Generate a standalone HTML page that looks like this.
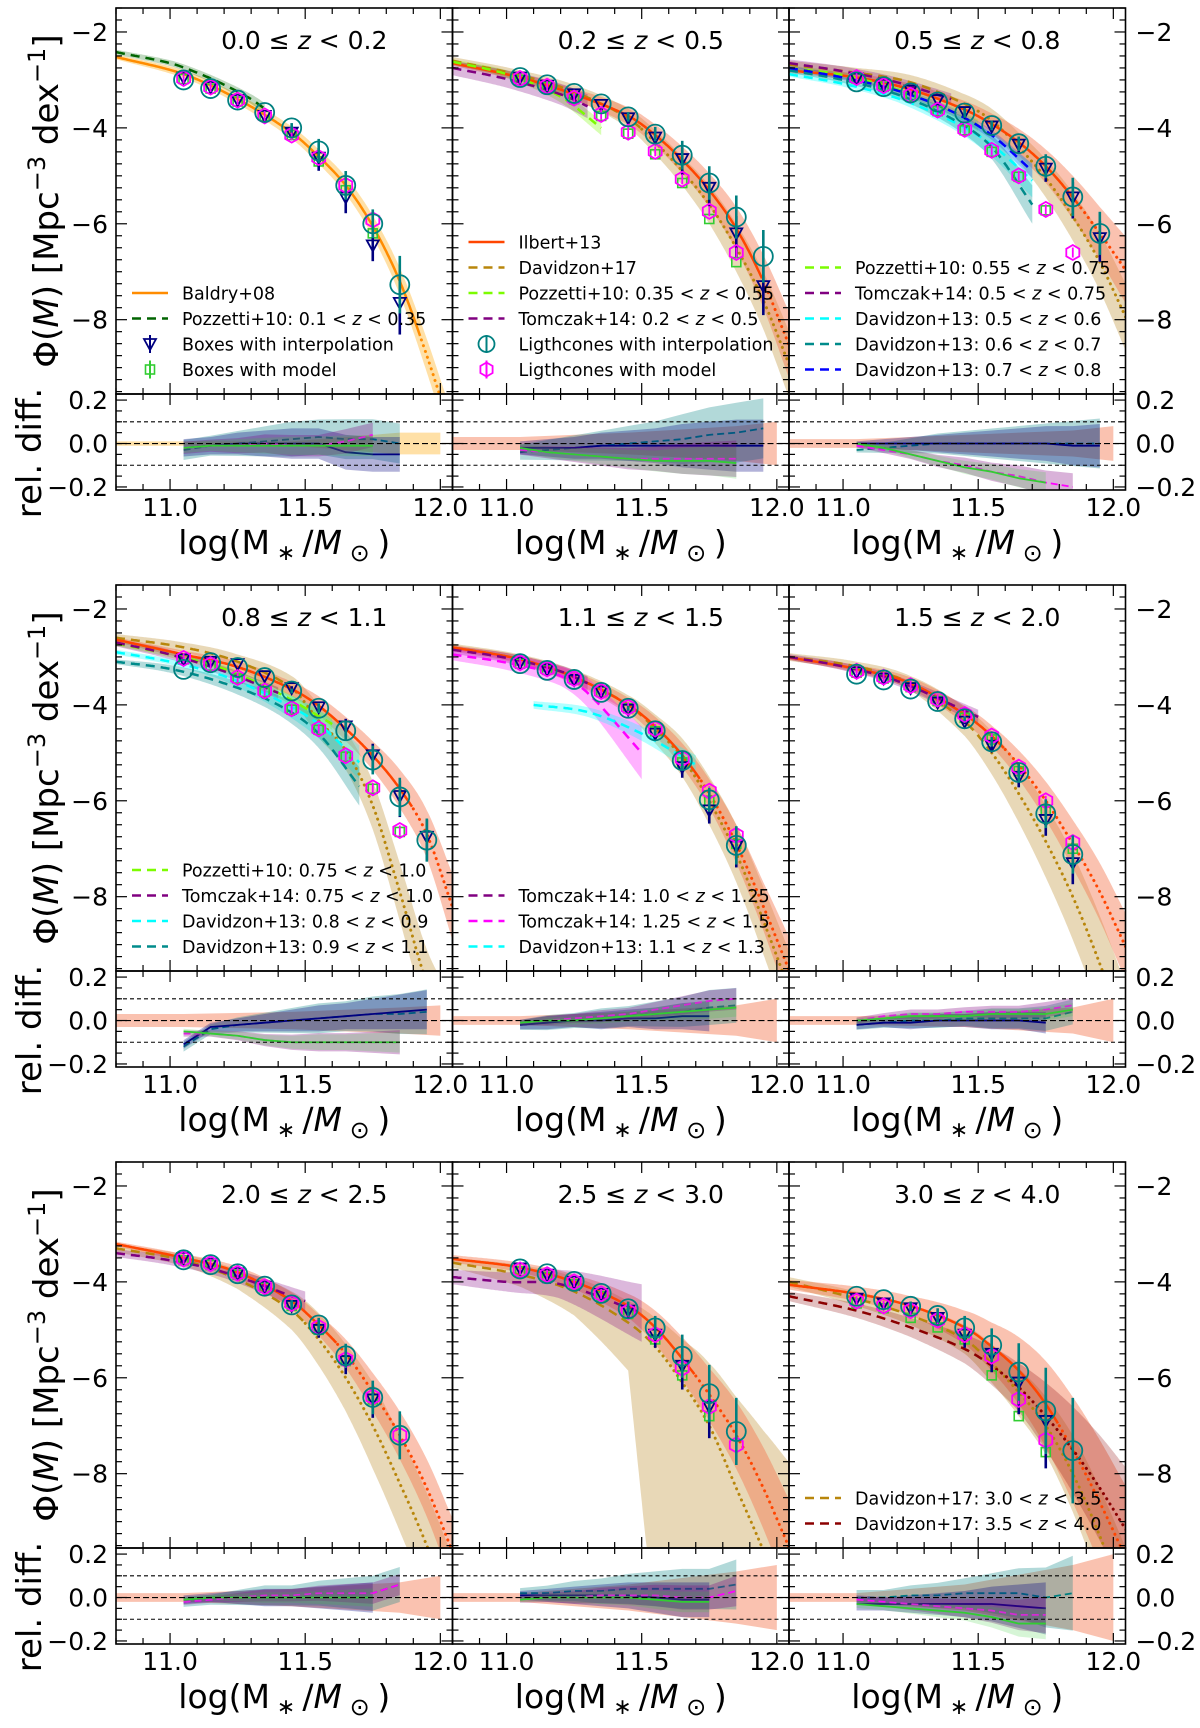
<!DOCTYPE html>
<html><head><meta charset="utf-8"><style>
html,body{margin:0;padding:0;background:#fff;width:1200px;height:1728px;overflow:hidden;}
svg{display:block;font-family:"DejaVu Sans","Liberation Sans",sans-serif;overflow:hidden;}
</style></head><body>
<svg id="chart" xmlns="http://www.w3.org/2000/svg" width="1200" height="1728" viewBox="0 0 1200 1728">
<defs id="defs"></defs>
</svg>
<script>
// ---------- data ----------
const panelTitles = [['0.0','0.2'],['0.2','0.5'],['0.5','0.8'],['0.8','1.1'],['1.1','1.5'],['1.5','2.0'],['2.0','2.5'],['2.5','3.0'],['3.0','4.0']];
const curveX = [10.8, 11.05, 11.25, 11.45, 11.55, 11.65, 11.75, 11.85, 11.95, 12.05];
const ilbertY = [
 [-2.52,-2.88,-3.4,-4.1,-4.6,-5.2,-6.05,-7.2,-8.75,-10.5],
 [-2.65,-2.95,-3.3,-3.75,-4.15,-4.67,-5.3,-6.1,-7.2,-8.6],
 [-2.8,-2.95,-3.2,-3.62,-3.92,-4.3,-4.8,-5.45,-6.2,-7.0],
 [-2.64,-2.95,-3.21,-3.67,-4.02,-4.5,-5.06,-5.75,-6.7,-8.3],
 [-2.8,-3.05,-3.42,-4.0,-4.45,-5.05,-5.85,-6.9,-8.2,-9.6],
 [-3.01,-3.25,-3.55,-4.2,-4.65,-5.25,-6.0,-6.9,-7.9,-9.1],
 [-3.21,-3.5,-3.8,-4.4,-4.9,-5.5,-6.3,-7.2,-8.3,-9.7],
 [-3.52,-3.7,-4.0,-4.5,-4.95,-5.6,-6.35,-7.2,-8.3,-9.6],
 [-4.06,-4.25,-4.5,-4.95,-5.35,-5.85,-6.55,-7.5,-8.6,-9.8]];
const ilbertErr = [
 [0.05,0.08,0.1,0.13,0.15,0.18,0.22,0.28,0.35,0.4],
 [0.05,0.08,0.12,0.18,0.22,0.28,0.35,0.45,0.55,0.7],
 [0.05,0.08,0.12,0.18,0.22,0.28,0.35,0.45,0.55,0.7],
 [0.05,0.08,0.12,0.15,0.2,0.25,0.3,0.4,0.5,0.7],
 [0.05,0.08,0.12,0.15,0.2,0.25,0.3,0.4,0.5,0.7],
 [0.05,0.08,0.12,0.18,0.22,0.3,0.4,0.5,0.6,0.7],
 [0.05,0.08,0.12,0.18,0.22,0.3,0.4,0.5,0.6,0.7],
 [0.08,0.1,0.15,0.25,0.35,0.45,0.55,0.7,0.85,1.0],
 [0.1,0.15,0.2,0.35,0.5,0.7,0.9,1.1,1.3,1.5]];
const ilbertDotFrom = [11.93, 11.95, 11.88, 11.9, 11.72, 11.6, 11.62, 11.7, 11.8];
const davidzonY = [null,
 [-2.6,-2.9,-3.25,-3.8,-4.3,-4.9,-5.6,-6.5,-7.6,-9.0],
 [-2.68,-2.85,-3.05,-3.5,-3.85,-4.4,-5.05,-5.85,-6.8,-8.0],
 [-2.6,-2.8,-3.1,-3.65,-4.33,-4.95,-6.1,-7.9,-9.8,-11],
 [-2.8,-3.05,-3.42,-4.0,-4.5,-5.1,-6.0,-7.1,-8.5,-10],
 [-3.0,-3.2,-3.55,-4.35,-5.0,-5.85,-6.85,-8.0,-9.4,-11],
 [-3.3,-3.55,-3.95,-4.6,-5.2,-6.0,-7.0,-8.2,-9.5,-11],
 [-3.6,-3.85,-4.2,-4.85,-5.35,-6.1,-7.0,-8.3,-9.6,-11],
 [-4.0,-4.35,-4.7,-5.2,-5.7,-6.3,-7.0,-8.0,-9.3,-10.8]];
const davidzonErrUp = [null,
 [0.08,0.1,0.15,0.2,0.25,0.3,0.4,0.5,0.6,0.7],
 [0.08,0.1,0.15,0.2,0.25,0.3,0.4,0.5,0.6,0.7],
 [0.08,0.1,0.15,0.25,0.35,0.4,0.5,0.6,0.7,0.8],
 [0.08,0.1,0.15,0.2,0.3,0.4,0.5,0.6,0.7,0.8],
 [0.08,0.1,0.15,0.3,0.45,0.6,0.75,0.9,1.0,1.1],
 [0.08,0.12,0.2,0.4,0.55,0.7,0.9,1.0,1.1,1.2],
 [0.1,0.2,0.3,0.45,0.6,0.9,1.3,1.9,2.5,3.2],
 [0.1,0.15,0.2,0.3,0.4,0.5,0.6,0.8,1.0,1.2]];
const davidzonErrDown = [null,
 [0.08,0.1,0.15,0.2,0.25,0.3,0.4,0.5,0.6,0.7],
 [0.08,0.1,0.15,0.2,0.25,0.3,0.4,0.5,0.6,0.7],
 [0.08,0.1,0.15,0.25,0.35,0.4,0.5,0.6,0.7,0.8],
 [0.08,0.1,0.15,0.2,0.3,0.4,0.5,0.6,0.7,0.8],
 [0.08,0.1,0.15,0.3,0.45,0.6,0.75,0.9,1.0,1.1],
 [0.08,0.12,0.2,0.4,0.55,0.7,0.9,1.0,1.1,1.2],
 [0.1,0.25,0.5,1.0,6,6,6,6,6,6],
 [0.1,0.15,0.2,0.3,0.4,0.5,0.6,0.8,1.0,1.2]];
const davidzonDotFrom = [0, 11.5, 11.5, 11.45, 11.6, 11.55, 11.5, 11.55, 11.55];

// literature dashed lines
const litPanel = [0, 1,1, 2,2,2,2,2, 3,3,3,3, 4,4,4, 5, 6, 7, 8];
const litColor = ['#006400','#7cfc00','#800080','#7cfc00','#800080','#00ffff','#008b8b','#0000ff','#7cfc00','#800080','#00ffff','#008b8b','#800080','#ff00ff','#00ffff','#800080','#800080','#800080','#8b0000'];
const litX = [
 [10.8,11.0,11.1,11.2,11.3,11.35],
 [10.8,11.0,11.2,11.35],[10.8,11.0,11.2,11.3],
 [10.8,11.0,11.2,11.4,11.5],[10.8,11.0,11.2,11.4],[10.8,11.0,11.2,11.4,11.55,11.7],[10.8,11.0,11.2,11.4,11.55,11.7],[10.8,11.0,11.2,11.4,11.55,11.7],
 [10.8,11.0,11.2,11.4,11.6],[10.8,11.0,11.2,11.4],[10.8,11.0,11.2,11.4,11.55,11.7],[10.8,11.0,11.2,11.4,11.55,11.7],
 [10.8,11.0,11.2,11.3],[10.8,11.0,11.2,11.3,11.5],[11.1,11.3,11.5,11.7],
 [10.8,11.0,11.2,11.5],[10.8,11.0,11.2,11.5],[10.8,11.0,11.2,11.5],
 [10.8,11.05,11.25,11.45,11.55,11.65,11.75,11.85,11.95,12.05]];
const litY = [
 [-2.42,-2.65,-2.85,-3.1,-3.4,-3.6],
 [-2.62,-2.88,-3.35,-4.0],[-2.75,-2.98,-3.3,-3.55],
 [-2.75,-2.9,-3.2,-3.65,-3.95],[-2.65,-2.82,-3.05,-3.4],[-2.88,-3.08,-3.38,-3.85,-4.35,-5.1],[-2.8,-3.0,-3.3,-3.8,-4.4,-5.6],[-2.75,-2.95,-3.22,-3.65,-4.15,-4.9],
 [-2.72,-2.95,-3.25,-3.75,-4.4],[-2.7,-2.95,-3.3,-3.75],[-2.9,-3.1,-3.4,-3.9,-4.4,-5.2],[-3.1,-3.25,-3.55,-4.0,-4.6,-5.7],
 [-2.85,-3.02,-3.3,-3.55],[-2.95,-3.12,-3.4,-3.75,-5.0],[-4.0,-4.15,-4.6,-5.25],
 [-3.0,-3.2,-3.5,-4.25],[-3.4,-3.55,-3.8,-4.4],[-3.9,-4.0,-4.05,-4.65],
 [-4.3,-4.6,-4.95,-5.4,-5.75,-6.2,-6.8,-7.5,-8.3,-9.2]];
const litErr = [
 [0.05,0.06,0.07,0.08,0.1,0.12],
 [0.05,0.08,0.12,0.15],[0.15,0.18,0.22,0.25],
 [0.05,0.06,0.08,0.1,0.12],[0.08,0.1,0.1,0.12],[0.05,0.06,0.08,0.15,0.25,0.35],[0.05,0.06,0.08,0.15,0.25,0.4],[0.05,0.05,0.06,0.08,0.1,0.15],
 [0.05,0.06,0.08,0.1,0.12],[0.08,0.1,0.1,0.12],[0.05,0.06,0.1,0.2,0.3,0.35],[0.05,0.08,0.12,0.2,0.3,0.4],
 [0.08,0.1,0.12,0.15],[0.12,0.15,0.2,0.3,0.55],[0.08,0.1,0.15,0.2],
 [0.06,0.08,0.1,0.15],[0.08,0.1,0.12,0.2],[0.15,0.2,0.3,0.6],
 [0.1,0.15,0.2,0.3,0.4,0.5,0.7,0.9,1.1,1.3]];
const litDotFrom = [99,99,99,99,99,99,99,99,99,99,99,99,99,99,99,99,99,99,11.55];

// mock-catalogue points
const ptsX = [11.05,11.15,11.25,11.35,11.45,11.55,11.65,11.75,11.85,11.95];
const tealY = [
 [-3.0,-3.18,-3.42,-3.68,-4.0,-4.48,-5.2,-6.0,-7.27,null],
 [-2.95,-3.1,-3.28,-3.5,-3.77,-4.13,-4.57,-5.15,-5.86,-6.68],
 [-3.04,-3.14,-3.27,-3.46,-3.69,-3.95,-4.33,-4.8,-5.44,-6.2],
 [-3.26,-3.12,-3.22,-3.43,-3.71,-4.07,-4.54,-5.15,-5.92,-6.82],
 [-3.14,-3.28,-3.47,-3.74,-4.07,-4.54,-5.16,-5.98,-6.93,null],
 [-3.36,-3.48,-3.67,-3.93,-4.29,-4.77,-5.41,-6.27,-7.12,null],
 [-3.54,-3.64,-3.83,-4.09,-4.48,-4.9,-5.54,-6.41,-7.2,null],
 [-3.73,-3.83,-3.99,-4.24,-4.56,-4.96,-5.55,-6.33,-7.12,null],
 [-4.3,-4.37,-4.51,-4.7,-4.96,-5.32,-5.88,-6.69,-7.52,null]];
const navyY = [
 [-2.95,-3.15,-3.42,-3.75,-4.1,-4.62,-5.45,-6.45,-7.65,null],
 [-2.95,-3.12,-3.3,-3.52,-3.8,-4.2,-4.65,-5.25,-6.2,-7.3],
 [-2.97,-3.1,-3.22,-3.42,-3.67,-3.97,-4.35,-4.85,-5.45,-6.3],
 [-3.05,-3.1,-3.15,-3.4,-3.65,-4.05,-4.45,-5.05,-5.9,-6.75],
 [-3.12,-3.26,-3.48,-3.72,-4.1,-4.6,-5.3,-6.2,-6.95,null],
 [-3.32,-3.45,-3.65,-3.95,-4.35,-4.85,-5.5,-6.4,-7.3,null],
 [-3.5,-3.62,-3.82,-4.1,-4.5,-5.0,-5.65,-6.45,null,null],
 [-3.72,-3.85,-4.0,-4.25,-4.6,-5.1,-5.75,-6.6,null,null],
 [-4.35,-4.45,-4.55,-4.75,-5.1,-5.5,-6.1,-6.9,null,null]];
const magentaY = [
 [-2.97,-3.15,-3.42,-3.75,-4.15,-4.62,-5.2,-5.92,null,null],
 [-2.97,-3.13,-3.38,-3.72,-4.09,-4.49,-5.07,-5.74,-6.6,null],
 [-2.95,-3.12,-3.32,-3.63,-4.03,-4.47,-5.0,-5.7,-6.6,null],
 [-3.03,-3.16,-3.43,-3.71,-4.08,-4.5,-5.06,-5.73,-6.62,null],
 [-3.12,-3.25,-3.45,-3.72,-4.05,-4.5,-5.12,-5.8,-6.72,null],
 [-3.3,-3.42,-3.6,-3.88,-4.2,-4.65,-5.3,-6.0,-6.87,null],
 [-3.52,-3.62,-3.82,-4.1,-4.45,-4.95,-5.62,-6.4,-7.2,null],
 [-3.75,-3.85,-4.0,-4.25,-4.62,-5.1,-5.8,-6.6,-7.4,null],
 [-4.4,-4.5,-4.6,-4.8,-5.1,-5.55,-6.45,-7.3,null,null]];
const greenY = [
 [-2.98,-3.18,-3.45,-3.75,-4.15,-4.7,-5.3,-6.2,null,null],
 [-3.0,-3.15,-3.4,-3.75,-4.12,-4.55,-5.15,-5.9,-6.8,null],
 [-2.97,-3.14,-3.35,-3.65,-4.05,-4.5,-5.02,-5.72,null,null],
 [-3.05,-3.18,-3.45,-3.73,-4.1,-4.52,-5.08,-5.75,-6.65,null],
 [-3.14,-3.27,-3.47,-3.73,-4.07,-4.55,-5.2,-6.0,-6.9,null],
 [-3.33,-3.45,-3.63,-3.92,-4.27,-4.72,-5.38,-6.2,-7.0,null],
 [-3.55,-3.65,-3.85,-4.12,-4.5,-5.0,-5.65,-6.45,null,null],
 [-3.78,-3.9,-4.05,-4.3,-4.67,-5.2,-5.95,-6.8,null,null],
 [-4.45,-4.55,-4.75,-4.95,-5.2,-5.95,-6.8,-7.55,null,null]];
const pointErr = [
 [0,0,0,0,0.1,0.25,0.3,0.3,0.6,0],
 [0,0,0,0,0.1,0.15,0.3,0.35,0.45,0.55],
 [0,0,0,0,0.1,0.1,0.15,0.25,0.4,0.45],
 [0,0,0,0,0.05,0.1,0.2,0.3,0.4,0.45],
 [0,0,0,0,0.05,0.1,0.2,0.25,0.4,0],
 [0,0,0,0,0.05,0.1,0.2,0.3,0.4,0],
 [0,0,0,0,0.1,0.15,0.25,0.35,0.5,0],
 [0,0,0,0,0.15,0.25,0.45,0.6,0.7,0],
 [0,0,0.1,0.15,0.25,0.35,0.6,0.9,1.1,0]];

// relative differences
const orangeX = [10.8, 11.05, 11.45, 11.85, 12.0];
const relOrange = [
 [0.01,0.01,0.01,0.05,0.05],[0.03,0.03,0.05,0.08,0.1],[0.02,0.02,0.04,0.06,0.08],
 [0.03,0.03,0.04,0.06,0.07],[0.02,0.02,0.04,0.07,0.1],[0.02,0.02,0.03,0.06,0.1],
 [0.02,0.02,0.04,0.07,0.1],[0.02,0.02,0.06,0.12,0.15],[0.02,0.02,0.06,0.15,0.2]];
const relTeal = [
 [-0.03,-0.01,0,0.01,0.02,0.03,0.02,0.02,0,null],
 [-0.04,-0.03,-0.02,-0.01,0,0.01,0.02,0.04,0.05,0.07],
 [-0.03,-0.02,-0.01,0,0,0,0,0,0,0],
 [-0.12,-0.04,-0.02,-0.01,0,0.01,0.02,0.03,0.03,0.04],
 [-0.02,-0.01,0,0.01,0.02,0.03,0.04,0.06,0.07,null],
 [-0.02,-0.01,0,0,0.01,0.01,0.01,0.01,0.04,null],
 [-0.02,-0.01,0,0.01,0.01,0.02,0.02,0.02,0.06,null],
 [0.02,0.02,0.03,0.03,0.04,0.04,0.04,0.04,0.06,null],
 [0,0,0.01,0.01,0.02,0.02,0.02,0,0.02,null]];
const relNavy = [
 [-0.02,-0.01,0,0,0,0,-0.04,-0.05,-0.05,null],
 [-0.02,-0.02,-0.02,-0.01,-0.01,-0.01,-0.01,-0.01,-0.01,-0.01],
 [0,0,0,0,0,0,0,0,-0.01,-0.01],
 [-0.11,-0.03,-0.02,-0.01,0,0.01,0.02,0.03,0.04,0.05],
 [-0.02,-0.01,0,0,0.01,0.01,0.02,0.02,null,null],
 [-0.02,-0.01,-0.01,0,0,0,0,-0.01,null,null],
 [-0.01,0,0,0,0,0,0,0,null,null],
 [0.01,0.01,0.01,0.01,0.01,0,-0.01,-0.01,null,null],
 [-0.03,-0.03,-0.03,-0.03,-0.03,-0.03,-0.04,-0.05,null,null]];
const relMagenta = [
 [-0.02,-0.01,-0.01,0,-0.01,-0.01,0.01,0.04,null,null],
 [-0.03,-0.04,-0.05,-0.06,-0.07,-0.07,-0.07,-0.07,-0.07,null],
 [-0.01,-0.03,-0.05,-0.08,-0.1,-0.13,-0.15,-0.18,-0.2,null],
 [-0.06,-0.06,-0.07,-0.09,-0.1,-0.1,-0.1,-0.1,-0.1,null],
 [-0.01,0,0.01,0.02,0.03,0.05,0.07,0.09,0.1,null],
 [0,0.02,0.03,0.03,0.04,0.04,0.04,0.05,0.07,null],
 [-0.02,-0.01,0,0.01,0.01,0.02,0.02,0.02,0.06,null],
 [-0.01,0,0,0.01,0.01,0.01,0,0,0.03,null],
 [-0.01,-0.02,-0.03,-0.04,-0.05,-0.06,-0.08,-0.08,null,null]];
const relGreen = [
 [-0.02,-0.01,-0.01,-0.01,-0.01,-0.01,-0.01,-0.01,null,null],
 [-0.02,-0.04,-0.05,-0.06,-0.07,-0.08,-0.08,-0.08,-0.09,null],
 [0,-0.02,-0.05,-0.08,-0.11,-0.13,-0.16,-0.18,null,null],
 [-0.05,-0.06,-0.07,-0.09,-0.1,-0.1,-0.1,-0.1,-0.1,null],
 [-0.01,0,0,0.01,0.02,0.03,0.04,0.05,0.06,null],
 [0,0.01,0.02,0.02,0.02,0.03,0.03,0.03,0.05,null],
 [-0.01,0,0,0,0,0,0,0,null,null],
 [-0.01,0,0,0,0,-0.01,-0.02,-0.02,null,null],
 [-0.03,-0.04,-0.05,-0.06,-0.07,-0.09,-0.12,-0.12,null,null]];
const relBand = [
 [0.04,0.04,0.05,0.06,0.07,0.07,0.08,0.08,0.08,null],
 [0.03,0.04,0.05,0.06,0.07,0.08,0.1,0.11,0.12,0.12],
 [0.01,0.02,0.03,0.04,0.05,0.06,0.07,0.08,0.09,0.1],
 [0.02,0.02,0.03,0.04,0.05,0.06,0.06,0.07,0.08,0.09],
 [0.02,0.03,0.03,0.04,0.04,0.05,0.06,0.07,0.07,null],
 [0.02,0.02,0.03,0.03,0.03,0.04,0.04,0.05,0.05,null],
 [0.02,0.02,0.03,0.04,0.04,0.05,0.06,0.07,0.07,null],
 [0.02,0.03,0.04,0.05,0.06,0.07,0.08,0.08,0.1,null],
 [0.03,0.03,0.04,0.05,0.06,0.08,0.1,0.12,0.15,null]];

const xTicks = ['11.0','11.5','12.0'];
const yTicks = ['\u22122','\u22124','\u22126','\u22128'];
const relTicks = ['0.2','0.0','\u22120.2'];

// ---------- rendering ----------
const NS = 'http://www.w3.org/2000/svg';
const svg = document.getElementById('chart');
const defs = document.getElementById('defs');
function mk(tag, attrs, parent){ const e=document.createElementNS(NS,tag); for(const k in attrs) e.setAttribute(k,attrs[k]); parent.appendChild(e); return e; }
const COLX = [116, 452.5, 789], W = 336.5, ROWT = [8, 585, 1162], MH = 386, RH = 96;
const XMIN = 10.8, XSPAN = 1.245, YTOP = -1.5, YSPAN = 8.05, RTOP = 0.228, RSPAN = 0.442;

function interp(xs, ys, m){
  const n = xs.length;
  if (m <= xs[0]) return ys[0];
  if (m >= xs[n-1]) return ys[n-1];
  let i = 0; while (i < n-2 && m > xs[i+1]) i++;
  const sl = k => k===0 ? (ys[1]-ys[0])/(xs[1]-xs[0]) : k===n-1 ? (ys[n-1]-ys[n-2])/(xs[n-1]-xs[n-2]) : (ys[k+1]-ys[k-1])/(xs[k+1]-xs[k-1]);
  const h = xs[i+1]-xs[i], t = (m-xs[i])/h;
  const h00=2*t*t*t-3*t*t+1, h10=t*t*t-2*t*t+t, h01=-2*t*t*t+3*t*t, h11=t*t*t-t*t;
  return h00*ys[i]+h10*h*sl(i)+h01*ys[i+1]+h11*h*sl(i+1);
}
function lin(xs, ys, m){
  const n = xs.length;
  if (m <= xs[0]) return ys[0];
  if (m >= xs[n-1]) return ys[n-1];
  let i = 0; while (i < n-2 && m > xs[i+1]) i++;
  const t = (m-xs[i])/(xs[i+1]-xs[i]);
  return ys[i] + t*(ys[i+1]-ys[i]);
}
function samples(xs){ const out=[]; for(let m=xs[0]; m<xs[xs.length-1]; m+=0.005) out.push(m); out.push(xs[xs.length-1]); return out; }

for (let p = 0; p < 9; p++) {
  const col = p % 3, row = Math.floor(p / 3);
  const L = COLX[col], T = ROWT[row];
  const X = m => Math.min(L + W + 2, L + (m - XMIN) / XSPAN * W);
  const Y = v => Math.max(T - 2, Math.min(T + MH + 2, T + (YTOP - v) / YSPAN * MH));
  const R = r => T + MH + (RTOP - r) / RSPAN * RH;

  const cm = mk('clipPath', {id: 'cm' + p}, defs); mk('rect', {x: L, y: T, width: W, height: MH}, cm);
  const cr = mk('clipPath', {id: 'cr' + p}, defs); mk('rect', {x: L, y: T + MH, width: W, height: RH}, cr);

  const panel = mk('g', {}, svg);
  
  
  const g = mk('g', {'clip-path': 'url(#cm' + p + ')'}, panel);
  
  

  function band(xs, ys, errUp, errDown, fill, name){
    const ms = samples(xs);
    let d = ms.map((m,i)=>(i?'L':'M')+X(m).toFixed(1)+','+Y(interp(xs,ys,m)+lin(xs,errUp,m)).toFixed(1)).join('');
    d += ms.slice().reverse().map(m=>'L'+X(m).toFixed(1)+','+Y(interp(xs,ys,m)-lin(xs,errDown,m)).toFixed(1)).join('') + 'Z';
    const e = mk('path', {d: d, fill: fill, stroke: 'none'}, g);
    
    
  }
  function curve(xs, ys, color, dash, dotFrom, name, lw){
    const ms = samples(xs);
    const a = ms.filter(m => m <= dotFrom), b = ms.filter(m => m >= dotFrom);
    if (a.length > 1) {
      const e = mk('path', {d: a.map((m,i)=>(i?'L':'M')+X(m).toFixed(1)+','+Y(interp(xs,ys,m)).toFixed(1)).join(''), fill:'none', stroke: color, 'stroke-width': lw||2.5, 'stroke-dasharray': dash}, g);
      
      
    }
    if (b.length > 1) {
      const e = mk('path', {d: b.map((m,i)=>(i?'L':'M')+X(m).toFixed(1)+','+Y(interp(xs,ys,m)).toFixed(1)).join(''), fill:'none', stroke: color, 'stroke-width': 3, 'stroke-dasharray': '0.1,6', 'stroke-linecap': 'round'}, g);
      
      
    }
  }

  if (davidzonY[p]) band(curveX, davidzonY[p], davidzonErrUp[p], davidzonErrDown[p], 'rgba(214,184,124,0.55)', 'davidzon17-band');
  band(curveX, ilbertY[p], ilbertErr[p], ilbertErr[p], p === 0 ? 'rgba(255,165,0,0.35)' : 'rgba(245,120,80,0.45)', p === 0 ? 'baldry08-band' : 'ilbert13-band');
  for (let k = 0; k < litPanel.length; k++) if (litPanel[k] === p) {
    const c = litColor[k];
    const fill = c === '#8b0000' ? 'rgba(139,0,0,0.25)' : c === '#800080' ? 'rgba(128,0,128,0.28)' : c === '#ff00ff' ? 'rgba(255,0,255,0.3)' : c === '#00ffff' ? 'rgba(0,255,255,0.3)' : c === '#008b8b' ? 'rgba(0,139,139,0.3)' : c === '#0000ff' ? 'rgba(0,0,255,0.2)' : c === '#006400' ? 'rgba(0,100,0,0.25)' : 'rgba(124,252,0,0.3)';
    band(litX[k], litY[k], litErr[k], litErr[k], fill, 'literature-band-' + k);
  }
  if (davidzonY[p]) curve(curveX, davidzonY[p], '#b8860b', '9,6', davidzonDotFrom[p], 'davidzon17-line');
  curve(curveX, ilbertY[p], p === 0 ? '#ff8c00' : '#ff4500', 'none', ilbertDotFrom[p], p === 0 ? 'baldry08-line' : 'ilbert13-line');
  for (let k = 0; k < litPanel.length; k++) if (litPanel[k] === p) curve(litX[k], litY[k], litColor[k], '9,6', litDotFrom[k], 'literature-line-' + k);

  for (let i = 0; i < ptsX.length; i++) {
    const cx = X(ptsX[i]), er = pointErr[p][i];
    if (greenY[p][i] !== null) {
      const y = Y(greenY[p][i]);
      const e = mk('rect', {x: cx-4.5, y: y-4.5, width: 9, height: 9, fill: 'none', stroke: '#32cd32', 'stroke-width': 1.6}, g);
      
      
    }
    if (navyY[p][i] !== null) {
      const y = Y(navyY[p][i]);
      if (er > 0) mk('line', {x1: cx, x2: cx, y1: Y(navyY[p][i] + er*0.8), y2: Y(navyY[p][i] - er*1.1), stroke: '#000080', 'stroke-width': 2.6}, g);
      const e = mk('polygon', {points: (cx-6)+','+(y-5)+' '+(cx+6)+','+(y-5)+' '+cx+','+(y+6), fill: 'none', stroke: '#000080', 'stroke-width': 1.8}, g);
      
      
    }
    if (magentaY[p][i] !== null) {
      const y = Y(magentaY[p][i]);
      let pts = '';
      for (let k = 0; k < 6; k++) { const a = (-90 + k*60) * Math.PI/180; pts += (cx + 7.5*Math.cos(a)).toFixed(1) + ',' + (y + 7.5*Math.sin(a)).toFixed(1) + ' '; }
      mk('line', {x1: cx, x2: cx, y1: y-5, y2: y+5, stroke: '#ff00ff', 'stroke-width': 1.8}, g);
      const e = mk('polygon', {points: pts, fill: 'none', stroke: '#ff00ff', 'stroke-width': 1.8}, g);
      
      
    }
    if (tealY[p][i] !== null) {
      const y = Y(tealY[p][i]);
      if (er > 0) mk('line', {x1: cx, x2: cx, y1: Y(tealY[p][i] + er), y2: Y(tealY[p][i] - er), stroke: '#008080', 'stroke-width': 2.6}, g);
      const e = mk('circle', {cx: cx, cy: y, r: 9.5, fill: 'none', stroke: '#008080', 'stroke-width': 1.8}, g);
      
      
    }
  }

  const rg = mk('g', {'clip-path': 'url(#cr' + p + ')'}, panel);
  
  
  {
    let d = orangeX.map((m,i)=>(i?'L':'M')+X(m)+','+R(relOrange[p][i])).join('') + orangeX.slice().reverse().map((m,j)=>'L'+X(m)+','+R(-relOrange[p][orangeX.length-1-j])).join('') + 'Z';
    const e = mk('path', {d: d, fill: p === 0 ? 'rgba(255,165,0,0.35)' : 'rgba(245,120,80,0.45)'}, rg);
    
    
  }
  function relSeries(vals, band, fill, stroke, dash, name){
    const idx = []; for (let i = 0; i < ptsX.length; i++) if (vals[i] !== null && band[i] !== null) idx.push(i);
    if (fill) {
      let d = idx.map((i,j)=>(j?'L':'M')+X(ptsX[i])+','+R(vals[i]+band[i])).join('') + idx.slice().reverse().map(i=>'L'+X(ptsX[i])+','+R(vals[i]-band[i])).join('') + 'Z';
      const e = mk('path', {d: d, fill: fill}, rg);
      
      
    }
    const e = mk('path', {d: idx.map((i,j)=>(j?'L':'M')+X(ptsX[i])+','+R(vals[i])).join(''), fill: 'none', stroke: stroke, 'stroke-width': 1.8, 'stroke-dasharray': dash}, rg);
    
    
  }
  const bandT = relBand[p].map(b => b === null ? null : b * 1.15);
  relSeries(relTeal[p].map((v,i)=> relBand[p][i] === null ? null : v), bandT, 'rgba(0,128,128,0.3)', '#008080', '7,4', 'rel-lightcones-interp');
  relSeries(relNavy[p], relBand[p], 'rgba(0,0,128,0.3)', '#000080', 'none', 'rel-boxes-interp');
  relSeries(relMagenta[p], relBand[p].map(b=>b===null?null:b*0.7), 'rgba(128,0,128,0.3)', '#ff00ff', '7,4', 'rel-lightcones-model');
  relSeries(relGreen[p], relBand[p].map(b=>b===null?null:b*0.6), 'rgba(50,205,50,0.2)', '#32cd32', 'none', 'rel-boxes-model');
  for (const r of [0.1, 0, -0.1]) {
    const e = mk('line', {x1: L, x2: L+W, y1: R(r), y2: R(r), stroke: '#000', 'stroke-width': 1.1, 'stroke-dasharray': r === 0 ? '6,3' : '4,3'}, rg);
    
    
  }

  const f1 = mk('rect', {x: L, y: T, width: W, height: MH, fill: 'none', stroke: '#000', 'stroke-width': 1.6}, panel);
  
  
  const f2 = mk('rect', {x: L, y: T+MH, width: W, height: RH, fill: 'none', stroke: '#000', 'stroke-width': 1.6}, panel);
  
  

  const tk = mk('g', {stroke: '#000', 'stroke-width': 1.2}, panel);
  
  
  for (let k = 0; k <= 12; k++) {
    const m = 10.8 + k*0.1, x = X(m), big = (k === 2 || k === 7 || k === 12) ? 11 : 6;
    for (const [yy, s] of [[T,1],[T+MH,-1],[T+MH,1],[T+MH+RH,-1]]) mk('line', {x1: x, x2: x, y1: yy, y2: yy + s*big}, tk);
  }
  for (let k = 0; k <= 32; k++) {
    const v = -1.5 - k*0.25; if (v < -9.55) break;
    const y = Y(v), big = (Math.abs(v % 2) < 1e-6) ? 11 : 6;
    mk('line', {x1: L, x2: L+big, y1: y, y2: y}, tk); mk('line', {x1: L+W, x2: L+W-big, y1: y, y2: y}, tk);
  }
  for (let k = -4; k <= 4; k++) {
    const r = k*0.05, y = R(r), big = (k % 4 === 0) ? 11 : 6;
    mk('line', {x1: L, x2: L+big, y1: y, y2: y}, tk); mk('line', {x1: L+W, x2: L+W-big, y1: y, y2: y}, tk);
  }

  [11.0, 11.5, 12.0].forEach((m, i) => {
    const t = mk('text', {x: X(m), y: T+MH+RH+26, 'font-size': 25, 'text-anchor': 'middle'}, panel);
    t.textContent = xTicks[i];
    
    
  });
  if (col === 0 || col === 2) {
    const xx = col === 0 ? L - 8 : L + W + 10, anc = col === 0 ? 'end' : 'start';
    [-2, -4, -6, -8].forEach((v, i) => {
      const t = mk('text', {x: xx, y: Y(v) + 9, 'font-size': 25, 'text-anchor': anc}, panel);
      t.textContent = yTicks[i];
      
      
    });
    [0.2, 0, -0.2].forEach((r, i) => {
      const t = mk('text', {x: xx, y: R(r) + 9, 'font-size': 25, 'text-anchor': anc}, panel);
      t.textContent = relTicks[i];
      
      
    });
  }
  {
    const t = mk('text', {x: L + W/2, y: T + 546, 'font-size': 33, 'text-anchor': 'middle'}, panel);
    t.innerHTML = 'log(M<tspan font-size="22" dy="6"> \u2217 </tspan><tspan dy="-6">/</tspan><tspan font-style="italic">M</tspan><tspan font-size="24" dy="7"> \u2299 </tspan><tspan dy="-7">)</tspan>';
    
    
  }
  {
    const t = mk('text', {x: L + W/2 + 20, y: T + 41, 'font-size': 25, 'text-anchor': 'middle'}, panel);
    t.innerHTML = panelTitles[p][0] + ' \u2264 <tspan font-style="italic">z</tspan> &lt; ' + panelTitles[p][1];
    
    
  }
  if (col === 0) {
    const t = mk('text', {x: 0, y: 0, 'font-size': 34, 'text-anchor': 'middle', transform: 'translate(58,' + (T + 193) + ') rotate(-90)'}, svg);
    t.innerHTML = '\u03A6(<tspan font-style="italic">M</tspan>) [Mpc<tspan font-size="24" dy="-13">\u22123</tspan><tspan dy="13"> dex</tspan><tspan font-size="24" dy="-13">\u22121</tspan><tspan dy="13">]</tspan>';
    
    
    const t2 = mk('text', {x: 0, y: 0, 'font-size': 34, 'text-anchor': 'middle', transform: 'translate(41,' + (T + 445) + ') rotate(-90)'}, svg);
    t2.textContent = 'rel. diff.';
    
    
  }
}

// ---------- legends ----------
const legendPanel = [0,0,0,0, 1,1,1,1,1,1, 2,2,2,2,2, 3,3,3,3, 4,4,4, 8,8];
const legendRow = [2,3,4,5, 0,1,2,3,4,5, 1,2,3,4,5, 2,3,4,5, 3,4,5, 4,5];
const legendKind = ['solid','dash','tri','sq', 'solid','dash','dash','dash','circ','hex', 'dash','dash','dash','dash','dash', 'dash','dash','dash','dash', 'dash','dash','dash', 'dash','dash'];
const legendColor = ['#ff8c00','#006400','#000080','#32cd32', '#ff4500','#b8860b','#7cfc00','#800080','#008080','#ff00ff', '#7cfc00','#800080','#00ffff','#008b8b','#0000ff', '#7cfc00','#800080','#00ffff','#008b8b', '#800080','#ff00ff','#00ffff', '#b8860b','#8b0000'];
const legendText = ['Baldry+08','Pozzetti+10: 0.1 < z < 0.35','Boxes with interpolation','Boxes with model',
 'Ilbert+13','Davidzon+17','Pozzetti+10: 0.35 < z < 0.55','Tomczak+14: 0.2 < z < 0.5','Ligthcones with interpolation','Ligthcones with model',
 'Pozzetti+10: 0.55 < z < 0.75','Tomczak+14: 0.5 < z < 0.75','Davidzon+13: 0.5 < z < 0.6','Davidzon+13: 0.6 < z < 0.7','Davidzon+13: 0.7 < z < 0.8',
 'Pozzetti+10: 0.75 < z < 1.0','Tomczak+14: 0.75 < z < 1.0','Davidzon+13: 0.8 < z < 0.9','Davidzon+13: 0.9 < z < 1.1',
 'Tomczak+14: 1.0 < z < 1.25','Tomczak+14: 1.25 < z < 1.5','Davidzon+13: 1.1 < z < 1.3',
 'Davidzon+17: 3.0 < z < 3.5','Davidzon+17: 3.5 < z < 4.0'];
for (let k = 0; k < legendText.length; k++) {
  const p = legendPanel[k], L = COLX[p % 3], T = ROWT[Math.floor(p / 3)];
  const y = T + 234 + legendRow[k] * 25.5, x0 = L + 16, x1 = L + 52;
  const g = mk('g', {}, svg);
  
  
  const c = legendColor[k], kind = legendKind[k], mx = (x0 + x1) / 2;
  if (kind === 'solid') mk('line', {x1: x0, x2: x1, y1: y, y2: y, stroke: c, 'stroke-width': 2.5}, g);
  else if (kind === 'dash') mk('line', {x1: x0, x2: x1, y1: y, y2: y, stroke: c, 'stroke-width': 2.5, 'stroke-dasharray': '9,6'}, g);
  else {
    mk('line', {x1: mx, x2: mx, y1: y-9, y2: y+9, stroke: c, 'stroke-width': 2}, g);
    if (kind === 'tri') mk('polygon', {points: (mx-6)+','+(y-5)+' '+(mx+6)+','+(y-5)+' '+mx+','+(y+6), fill: 'none', stroke: c, 'stroke-width': 1.8}, g);
    if (kind === 'sq') mk('rect', {x: mx-4.5, y: y-4.5, width: 9, height: 9, fill: 'none', stroke: c, 'stroke-width': 1.6}, g);
    if (kind === 'circ') mk('circle', {cx: mx, cy: y, r: 8, fill: 'none', stroke: c, 'stroke-width': 1.8}, g);
    if (kind === 'hex') { let pts=''; for (let q=0;q<6;q++){const a=(-90+q*60)*Math.PI/180; pts+=(mx+7*Math.cos(a)).toFixed(1)+','+(y+7*Math.sin(a)).toFixed(1)+' ';} mk('polygon', {points: pts, fill: 'none', stroke: c, 'stroke-width': 1.8}, g); }
  }
  const t = mk('text', {x: L + 66, y: y + 6.5, 'font-size': 17.5}, g);
  const parts = legendText[k].split(' z ');
  if (parts.length === 2) t.innerHTML = parts[0].replace('<','&lt;') + ' <tspan font-style="italic">z</tspan> ' + parts[1].replace('<','&lt;');
  else t.textContent = legendText[k];
}
</script>
</body></html>
